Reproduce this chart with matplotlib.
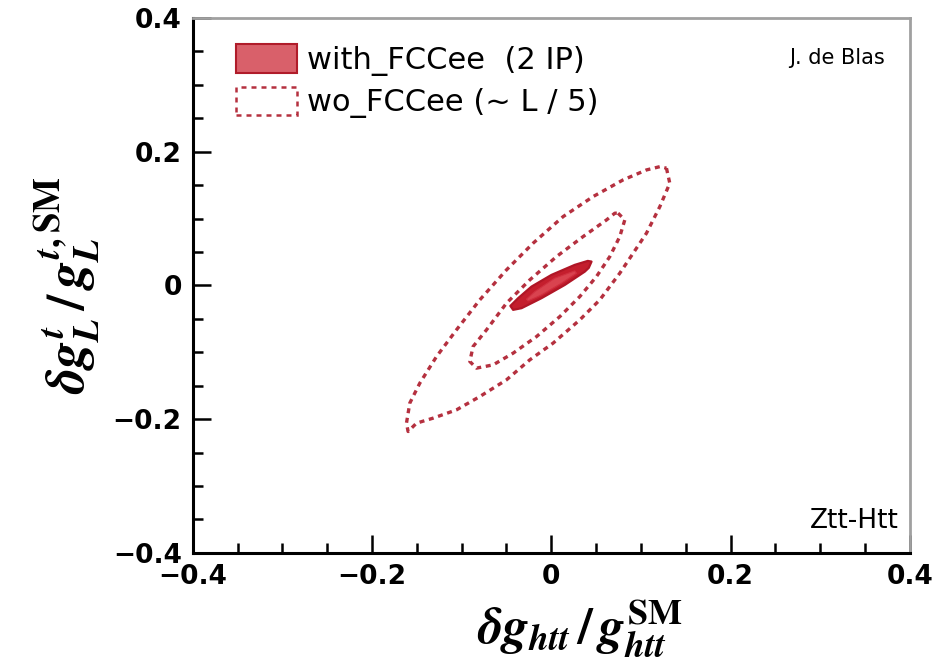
import matplotlib
matplotlib.use('Agg')
import matplotlib.pyplot as plt
from matplotlib.patches import Patch, Polygon
from matplotlib.ticker import MultipleLocator

# Contour outlines (x = dg_htt/g_htt, y = dg_L/g_L)
outer_x = [0.1285, 0.1322, 0.1211, 0.1062, 0.0913, 0.0764, 0.0541, 0.0318, 0.0020,
           -0.0240, -0.0500, -0.0798, -0.1058, -0.1319, -0.1504, -0.1598, -0.1616,
           -0.1579, -0.1467, -0.1281, -0.1058, -0.0798, -0.0500, -0.0203, 0.0132,
           0.0466, 0.0801, 0.1062, 0.1211]
outer_y = [0.1753, 0.1528, 0.1178, 0.0781, 0.0481, 0.0182, -0.0217, -0.0516, -0.0864,
           -0.1114, -0.1413, -0.1663, -0.1862, -0.1986, -0.2061, -0.2186, -0.2061,
           -0.1761, -0.1462, -0.1065, -0.0665, -0.0217, 0.0232, 0.0631, 0.1029,
           0.1328, 0.1578, 0.1727, 0.1776]

mid_x = [0.0745, 0.0820, 0.0764, 0.0653, 0.0504, 0.0318, 0.0095, -0.0165, -0.0426,
         -0.0649, -0.0835, -0.0909, -0.0873, -0.0723, -0.0500, -0.0240, 0.0058,
         0.0355, 0.0616, 0.0709]
mid_y = [0.1080, 0.0979, 0.0730, 0.0431, 0.0132, -0.0167, -0.0467, -0.0766, -0.1014,
         -0.1189, -0.1238, -0.1139, -0.0915, -0.0665, -0.0266, 0.0082, 0.0431,
         0.0730, 0.0979, 0.1080]

fcc95_x = [0.0449, 0.0418, 0.0374, 0.0151, -0.0109, -0.0332, -0.0426, -0.0457,
           -0.0370, -0.0221, 0.0002, 0.0262, 0.0407]
fcc95_y = [0.0356, 0.0262, 0.0206, 0.0007, -0.0191, -0.0341, -0.0366, -0.0307,
           -0.0191, -0.0018, 0.0157, 0.0307, 0.0366]

fcc68_x = [0.0281, 0.0114, -0.0109, -0.0259, -0.0277, -0.0184, 0.0039, 0.0262]
fcc68_y = [0.0182, 0.0033, -0.0142, -0.0232, -0.0206, -0.0093, 0.0108, 0.0217]

labels = ['with_FCCee  (2 IP)', 'wo_FCCee (~ L / 5)']

dash_col = '#b5303f'
fill_dark = '#c41e2d'
fill_light = '#d9434f'

plt.rcParams['mathtext.fontset'] = 'custom'
plt.rcParams['mathtext.it'] = 'STIXGeneral:italic:bold'
plt.rcParams['mathtext.rm'] = 'STIXGeneral:bold'
plt.rcParams['mathtext.bf'] = 'STIXGeneral:bold'

fig = plt.figure(figsize=(9.36, 6.66), dpi=100)
ax = fig.add_axes([0.206, 0.170, 0.766, 0.803])

# wo_FCCee contours (dotted)
for xs, ys in [(outer_x, outer_y), (mid_x, mid_y)]:
    ax.add_patch(Polygon(list(zip(xs, ys)), closed=True, fill=False, joinstyle='round',
                         edgecolor=dash_col, linewidth=2.4, linestyle=(0, (1.5, 1.4))))

# with_FCCee filled contours
ax.add_patch(Polygon(list(zip(fcc95_x, fcc95_y)), closed=True, facecolor=fill_dark,
                     edgecolor='#b01626', linewidth=1.6, joinstyle='round'))
ax.add_patch(Polygon(list(zip(fcc68_x, fcc68_y)), closed=True, facecolor=fill_light,
                     edgecolor='#d03040', linewidth=0.8, joinstyle='round'))

ax.set_xlim(-0.4, 0.4)
ax.set_ylim(-0.4, 0.4)
ax.set_xticks([-0.4, -0.2, 0, 0.2, 0.4])
ax.set_yticks([-0.4, -0.2, 0, 0.2, 0.4])
ax.set_xticklabels(['\u22120.4', '\u22120.2', '0', '0.2', '0.4'])
ax.set_yticklabels(['\u22120.4', '\u22120.2', '0', '0.2', '0.4'])
ax.xaxis.set_minor_locator(MultipleLocator(0.05))
ax.yaxis.set_minor_locator(MultipleLocator(0.05))
ax.tick_params(which='both', direction='in', top=False, right=False, width=1.8, color='black')
ax.tick_params(which='major', length=13, labelsize=19, pad=8)
ax.tick_params(which='minor', length=7)
for lab in ax.get_xticklabels() + ax.get_yticklabels():
    lab.set_fontweight('semibold')

for s in ['left', 'bottom']:
    ax.spines[s].set_linewidth(2.2)
    ax.spines[s].set_color('black')
for s in ['top', 'right']:
    ax.spines[s].set_linewidth(2.0)
    ax.spines[s].set_color('#a0a0a0')

ax.set_xlabel(r'$\delta g_{htt}\,/\,g_{htt}^{\mathrm{SM}}$', fontsize=37, labelpad=2)
ax.xaxis.set_label_coords(0.54, -0.085)
ax.set_ylabel(r'$\delta g_{L}^{t}\,/\,g_{L}^{t,\mathrm{SM}}$', fontsize=38, labelpad=8)

handles = [Patch(facecolor='#d9606a', edgecolor='#b01c2a', linewidth=1.5),
           Patch(facecolor='white', edgecolor=dash_col, linewidth=1.8, linestyle=(0, (2, 2)))]
ax.legend(handles, labels, loc='upper left', bbox_to_anchor=(0.035, 0.985), frameon=False,
          fontsize=22, handlelength=2.0, handleheight=1.05, handletextpad=0.3,
          labelspacing=0.35, borderaxespad=0.2)

ax.text(0.965, 0.925, 'J. de Blas', transform=ax.transAxes, ha='right', va='center', fontsize=15)
ax.text(0.985, 0.06, 'Ztt-Htt', transform=ax.transAxes, ha='right', va='center', fontsize=19)

fig.savefig('out.png', dpi=100)
